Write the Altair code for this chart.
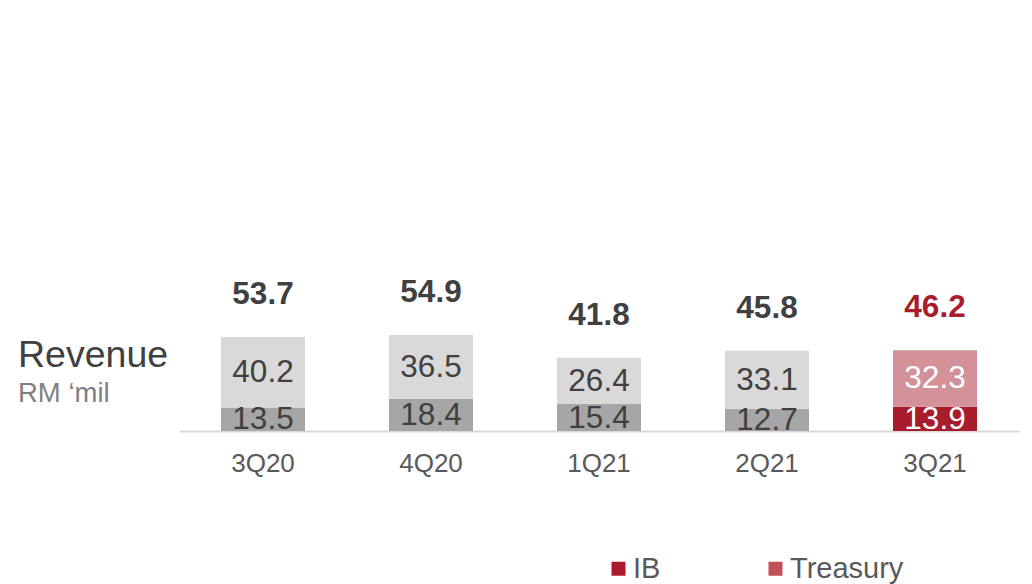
import altair as alt
import pandas as pd

quarters = ["3Q20", "4Q20", "1Q21", "2Q21", "3Q21"]
ib = [13.5, 18.4, 15.4, 12.7, 13.9]
treasury = [40.2, 36.5, 26.4, 33.1, 32.3]
totals = [53.7, 54.9, 41.8, 45.8, 46.2]
highlight = "3Q21"
legend_names = ["IB", "Treasury"]

rows = []
for q, a, b in zip(quarters, ib, treasury):
    rows.append({"quarter": q, "segment": "IB", "value": a, "order": 0})
    rows.append({"quarter": q, "segment": "Treasury", "value": b, "order": 1})
df = pd.DataFrame(rows)
tot = pd.DataFrame({"quarter": quarters, "total": totals})

FONT = "Liberation Sans"
ydom = [0, 400 / 1.75]

x_enc = alt.X(
    "quarter:N",
    sort=quarters,
    scale=alt.Scale(paddingInner=0.5, paddingOuter=0.25),
    axis=alt.Axis(
        title=None, labelAngle=0, labelFontSize=26, labelColor="#595959",
        labelFont=FONT, domainColor="#d9d9d9", domainWidth=2, ticks=False,
        labelPadding=19, grid=False,
    ),
)
y_scale = alt.Scale(domain=ydom, nice=False, zero=True)

base = alt.Chart(df).transform_stack(
    stack="value", groupby=["quarter"], sort=[alt.SortField("order")], as_=["y0", "y1"]
).transform_calculate(
    key=f"datum.quarter == '{highlight}' ? datum.segment : 'Prior ' + datum.segment",
    mid="(datum.y0 + datum.y1) / 2",
)

bars = base.mark_bar().encode(
    x=x_enc,
    y=alt.Y("y0:Q", scale=y_scale, axis=None),
    y2="y1:Q",
    color=alt.Color(
        "key:N",
        scale=alt.Scale(
            domain=["Prior IB", "Prior Treasury", "IB", "Treasury"],
            range=["#a6a6a6", "#d9d9d9", "#a81c2c", "#d3929a"],
        ),
        legend=None,
    ),
)

seg_text = base.mark_text(font=FONT, fontSize=31.5, baseline="middle", align="center", dy=1).encode(
    x=alt.X("quarter:N", sort=quarters),
    y=alt.Y("mid:Q", scale=y_scale, axis=None),
    text=alt.Text("value:Q", format=".1f"),
    color=alt.condition(
        alt.datum.quarter == highlight, alt.value("#ffffff"), alt.value("#404040")
    ),
)

tot_text = alt.Chart(tot).mark_text(
    font=FONT, fontSize=31.5, fontWeight="bold", baseline="middle", align="center", dy=-42
).encode(
    x=alt.X("quarter:N", sort=quarters),
    y=alt.Y("total:Q", scale=y_scale, axis=None),
    text=alt.Text("total:Q", format=".1f"),
    color=alt.condition(
        alt.datum.quarter == highlight, alt.value("#a81c2c"), alt.value("#404040")
    ),
)

rev = alt.Chart(pd.DataFrame({"t": ["Revenue"]})).mark_text(
    font=FONT, fontSize=37.5, align="left", baseline="middle", color="#404040"
).encode(x=alt.value(-161), y=alt.value(325), text="t:N")

unit = alt.Chart(pd.DataFrame({"t": ["RM \u2018mil"]})).mark_text(
    font=FONT, fontSize=27.5, align="left", baseline="middle", color="#7f7f7f"
).encode(x=alt.value(-161), y=alt.value(363), text="t:N")

leg = alt.Chart(pd.DataFrame({"name": legend_names})).mark_square(size=0, opacity=0).encode(
    x=alt.value(0),
    y=alt.value(0),
    color=alt.Color(
        "name:N",
        scale=alt.Scale(domain=legend_names, range=["#a81c2c", "#c0505a"]),
        legend=alt.Legend(
            title=None, orient="none", direction="horizontal",
            legendX=425, legendY=523, symbolType="square", symbolSize=196,
            symbolOpacity=1, symbolStrokeWidth=0, labelFontSize=29,
            labelFont=FONT, labelColor="#595959", labelOffset=0,
            columnPadding=100, padding=0,
        ),
    ),
)

chart = alt.layer(bars, seg_text, tot_text, rev, unit, leg).resolve_scale(
    color="independent"
).properties(
    width=840,
    height=400,
    padding={"left": 179, "top": 31, "right": 13, "bottom": 153},
    autosize=alt.AutoSizeParams(type="none"),
    background="white",
).configure_view(stroke=None)

chart.save("out.html", embed_options={"renderer": "svg", "actions": False})
